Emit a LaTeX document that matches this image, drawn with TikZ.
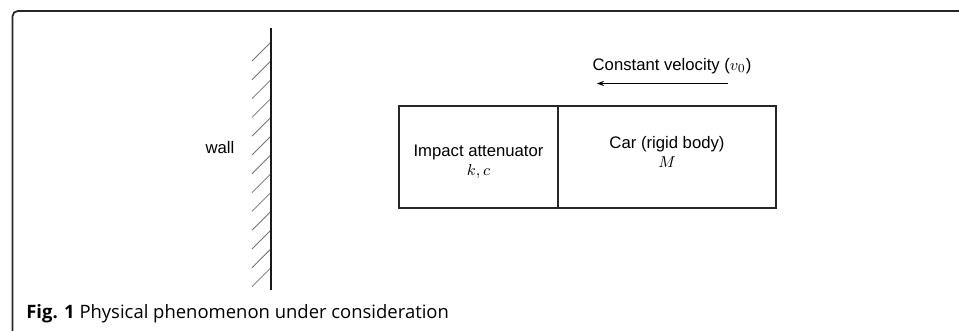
\documentclass[tikz,border=0pt]{standalone}
\usepackage{amsmath}
\usepackage{fontspec}
\setmainfont{Liberation Sans}
\newfontfamily\capfont{Open Sans}
\usetikzlibrary{arrows.meta,positioning}

\begin{document}
\begin{tikzpicture}[scale=0.2]
        \tikzstyle{every node}+=[inner sep=0pt]
        \tikzstyle{body}=[draw=black!85, line width=1.1pt, minimum height=2.04cm]
        \tikzstyle{txt}=[font=\fontsize{9.5}{12}\selectfont, align=center]
        \useasboundingbox (0,0) rectangle (95.9,-33.1);
        % frame
        \draw [black!85, line width=1pt, rounded corners=3pt] (1.25,-33.1) -- (1.25,-1.1) -- (95.9,-1.1);
        % wall
        \coordinate (wtop) at (27.1,-2.8);
        \coordinate (wbot) at (27.1,-29.0);
        \foreach \i in {0,...,12}
          \draw [black!55, line width=0.45pt] (27.1,-4.2-1.88*\i) -- (25.2,-6.1-1.88*\i);
        \draw [black!90, line width=1.1pt] (wtop) -- (wbot);
        \node [txt] (wall) at (22.0,-14.8) {wall};
        % attenuator and car
        \node [body, minimum width=3.18cm] (att) at (47.85,-15.7) {};
        \node [body, minimum width=4.36cm, right=-1.1pt of att] (car) {};
        \node [txt] (attlbl) at (47.85,-16.2) {Impact attenuator\\[-1pt]$k,c$};
        \node [txt] (carlbl) at (66.7,-15.2) {Car (rigid body)\\[-1pt]$M$};
        % velocity
        \coordinate (vstart) at (72.8,-8.35);
        \coordinate (vend) at (59.7,-8.35);
        \draw [black, line width=0.6pt, -{Stealth[length=4pt,width=3pt]}] (vstart) -- (vend);
        \node [txt] (vlbl) at (67.2,-6.6) {Constant velocity ($v_0$)};
        % caption
        \node [anchor=base west, font=\capfont\fontsize{10.5}{13}\selectfont] (cap) at (2.6,-31.8)
          {\textbf{Fig. 1} Physical phenomenon under consideration};
      \end{tikzpicture}
\end{document}
